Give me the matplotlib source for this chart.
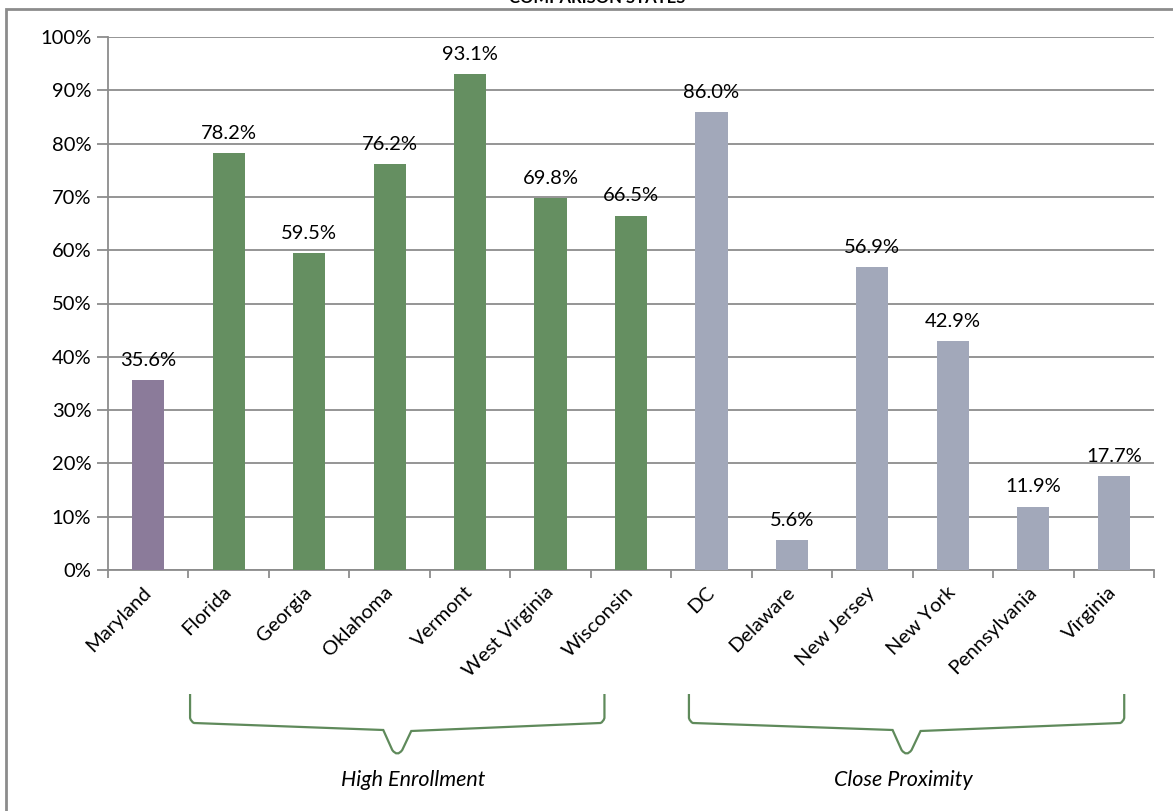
import matplotlib.pyplot as plt
from matplotlib.path import Path
from matplotlib.patches import PathPatch, Rectangle
from matplotlib.transforms import blended_transform_factory
from matplotlib.ticker import MultipleLocator, PercentFormatter

plt.rcParams['font.family'] = ['Lato', 'DejaVu Sans']

states = ["Maryland", "Florida", "Georgia", "Oklahoma", "Vermont", "West Virginia",
          "Wisconsin", "DC", "Delaware", "New Jersey", "New York", "Pennsylvania", "Virginia"]
rates = [35.6, 78.2, 59.5, 76.2, 93.1, 69.8, 66.5, 86.0, 5.6, 56.9, 42.9, 11.9, 17.7]
groups = ["home", "high", "high", "high", "high", "high", "high",
          "near", "near", "near", "near", "near", "near"]
group_colors = {"home": "#8b7b9a", "high": "#658f61", "near": "#a2a8ba"}

# brace spans (x in category units) and captions
brace_spans = [(0.52, 5.67), (6.72, 12.13)]
brace_labels = ["High Enrollment", "Close Proximity"]
brace_label_x = [3.29, 9.38]

fig = plt.figure(figsize=(11.73, 8.11), dpi=100)
ax = fig.add_axes([108 / 1173, 1 - 570 / 811, (1154 - 108) / 1173, (570 - 37) / 811])

x = list(range(len(states)))
ax.bar(x, rates, width=0.40, color=[group_colors[g] for g in groups], zorder=3)

for xi, v in zip(x, rates):
    ax.annotate(f"{v:.1f}%", (xi, v), xytext=(0, 8), textcoords="offset points",
                ha="center", va="bottom", fontsize=14.5)

ax.set_xlim(-0.5, len(states) - 0.5)
ax.set_ylim(0, 100)
ax.yaxis.set_major_locator(MultipleLocator(10))
ax.yaxis.set_major_formatter(PercentFormatter(decimals=0))
ax.grid(axis="y", color="#8c8c8c", linewidth=1.3, zorder=0)

ax.set_xticks([i + 0.5 for i in range(-1, len(states))])
ax.set_xticklabels([])
ax.set_xticks(x, minor=True)
ax.set_xticklabels(states, minor=True, rotation=45, ha="right", va="center",
                   rotation_mode="anchor", fontsize=14.5)
ax.tick_params(axis="x", which="minor", length=0, pad=14)
ax.tick_params(axis="x", which="major", length=6, width=1.3, color="#8c8c8c")
ax.tick_params(axis="y", length=8, width=1.3, color="#8c8c8c", labelsize=14.5, pad=4)

for s in ["top", "right"]:
    ax.spines[s].set_visible(False)
for s in ["left", "bottom"]:
    ax.spines[s].set_color("#8c8c8c")
    ax.spines[s].set_linewidth(1.3)

# curly braces under the groups: x in data units, y in figure pixels
tr = blended_transform_factory(ax.transData, fig.transFigure)
px = 80.5  # pixels per category


def fy(p):
    return 1 - p / 811


for (x0, x1), label, lx in zip(brace_spans, brace_labels, brace_label_x):
    cx = (x0 + x1) / 2
    d = 4 / px
    verts = [(x0, fy(694)), (x0, fy(718)), (x0 + d * 0.3, fy(722)), (x0 + d, fy(723)),
             (cx - 14 / px, fy(730)),
             (cx - 5 / px, fy(750)), (cx, fy(757)), (cx + 5 / px, fy(750)),
             (cx + 14 / px, fy(731)),
             (x1 - d, fy(723)), (x1 - d * 0.3, fy(722)), (x1, fy(718)), (x1, fy(694))]
    codes = [Path.MOVETO, Path.LINETO, Path.CURVE3, Path.CURVE3,
             Path.LINETO,
             Path.LINETO, Path.CURVE3, Path.CURVE3,
             Path.LINETO,
             Path.LINETO, Path.CURVE3, Path.CURVE3, Path.LINETO]
    fig.add_artist(PathPatch(Path(verts, codes), transform=tr, fill=False,
                             edgecolor="#5f8a5b", linewidth=1.6))
    fig.text(lx, fy(780), label, transform=tr, ha="center", va="center",
             fontsize=15.5, style="italic")

# outer frame and title
fig.add_artist(Rectangle((6 / 1173, -0.1), 2, 1.1 - 9 / 811, transform=fig.transFigure,
                         fill=False, edgecolor="#8c8c8c", linewidth=2))
fig.text(597 / 1173, 1 - 3 / 811, "COMPARISON STATES", ha="center", va="baseline",
         fontsize=12, fontweight="bold")

fig.savefig("out.png", dpi=100)
